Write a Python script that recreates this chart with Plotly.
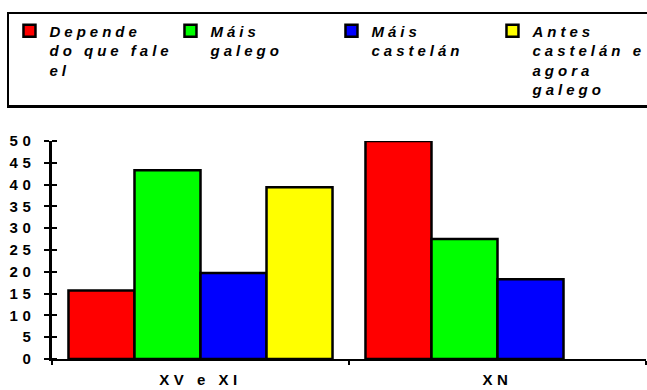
import plotly.graph_objects as go

categories = ["XV e XI", "XN"]
series_names = [
    "Depende<br>do que fale<br>el",
    "Máis<br>galego",
    "Máis<br>castelán",
    "Antes<br>castelán e<br>agora<br>galego",
]
series_colors = ["#FF0000", "#00FF00", "#0000FF", "#FFFF00"]
values_depende = [15.7, 50.0]
values_mais_galego = [43.3, 27.5]
values_mais_castelan = [19.7, 18.3]
values_antes = [39.4, None]
y_ticks = [0, 5, 10, 15, 20, 25, 30, 35, 40, 45, 50]

all_values = [values_depende, values_mais_galego, values_mais_castelan, values_antes]

FONT = "Liberation Sans, Arial, sans-serif"

fig = go.Figure()
for name, color, vals in zip(series_names, series_colors, all_values):
    fig.add_trace(go.Bar(
        x=categories, y=vals, name=name,
        marker=dict(color=color, line=dict(color="black", width=2.5)),
    ))

fig.update_layout(
    width=647, height=390,
    margin=dict(l=52, r=1, t=141, b=31, autoexpand=False),
    paper_bgcolor="white", plot_bgcolor="white",
    barmode="group", bargap=0.111, bargroupgap=0,
    showlegend=True,
    legend=dict(
        orientation="h", x=-0.0758, y=1.592, xanchor="left", yanchor="top",
        bordercolor="black", borderwidth=2.5, bgcolor="white",
        entrywidth=116, valign="top", traceorder="normal",
        font=dict(family=FONT, size=15, color="black", weight="bold", style="italic"),
        itemclick=False, itemdoubleclick=False,
    ),
    xaxis=dict(
        showline=True, linecolor="black", linewidth=1.5,
        ticks="outside", ticklen=4, tickwidth=2, tickcolor="black",
        tickson="boundaries", ticklabelstandoff=6,
        tickfont=dict(family=FONT, size=15, color="black", weight="bold"),
        showgrid=False, zeroline=False,
    ),
    yaxis=dict(
        range=[0, 50], tickvals=y_ticks,
        showline=True, linecolor="black", linewidth=2.5,
        ticks="outside", ticklen=5, tickwidth=2, tickcolor="black",
        minor=dict(ticks="inside", tickmode="array",
                   tickvals=[v + 0.001 for v in y_ticks],
                   ticklen=5, tickwidth=2, tickcolor="black", showgrid=False),
        ticklabelstandoff=6,
        tickfont=dict(family=FONT, size=15, color="black", weight="bold"),
        showgrid=False, zeroline=False,
    ),
)

post = """
document.body.style.margin = '0';
document.body.style.padding = '0';
var s = document.createElement('style');
s.innerHTML = 'body{margin:0;padding:0;} .legendtext{letter-spacing:4px;} .xtick text, .ytick text{letter-spacing:4.5px;}';
document.head.appendChild(s);
"""
fig.write_html("out.html", post_script=post, config={"displayModeBar": False})
